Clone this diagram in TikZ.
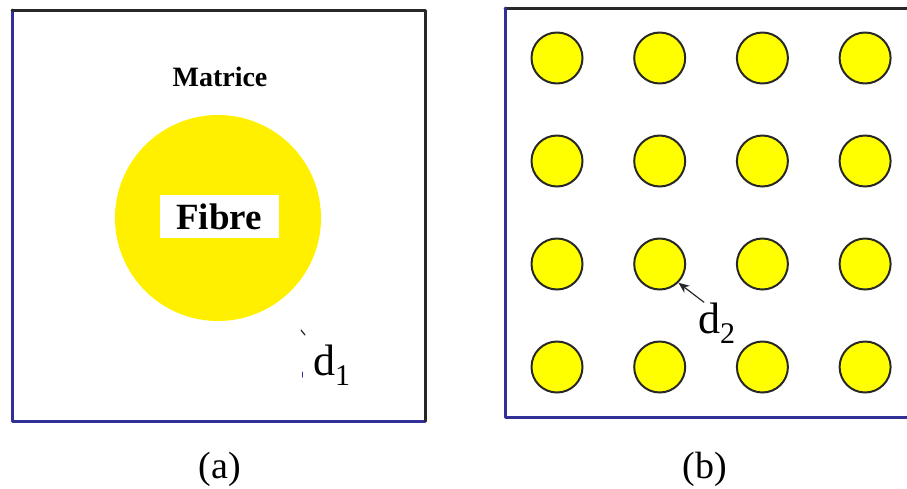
\documentclass[tikz,border=0pt]{standalone}
\usepackage{fontspec}
\setmainfont{Liberation Serif}
\usetikzlibrary{arrows.meta,positioning}
\definecolor{cellblue}{RGB}{48,48,150}
\definecolor{celldark}{RGB}{40,40,40}
\definecolor{fibreyellow}{RGB}{255,240,0}
\definecolor{rodyellow}{RGB}{255,255,0}
\tikzset{
 rod/.style={circle,draw=celldark,fill=rodyellow,line width=2pt,minimum size=51pt,inner sep=0pt},
 dimlabel/.style={font=\fontsize{44}{46}\selectfont,inner sep=0pt,anchor=base west},
 caption/.style={font=\fontsize{38}{40}\selectfont,inner sep=0pt}
}
\newcommand{\dimsub}[1]{\raisebox{-10pt}{\fontsize{30}{30}\selectfont #1}}

\begin{document}
\begin{tikzpicture}[x=1pt,y=-1pt,line cap=round,line join=round]
 \useasboundingbox (0,0) rectangle (907,488);
 % Komorka (a).
 \draw[cellblue,line width=3pt] (425,421)--(12,421)--(12,10);
 \draw[celldark,line width=3pt] (12,10)--(425,10)--(425,421);
 \node[circle,fill=fibreyellow,minimum size=206pt,inner sep=0pt] (fibre) at (218,218) {};
 \node[fill=white,minimum width=119pt,minimum height=43pt,inner sep=0pt,
  font=\bfseries\fontsize{37}{39}\selectfont] (fibrelabel) at (219,216.5) {Fibre};
 \node[font=\bfseries\fontsize{28}{30}\selectfont,inner sep=0pt] (matrice) at (220,77) {Matrice};
 \node[dimlabel] (d1) at (313,375) {d\dimsub{1}};
 \draw[celldark,line width=1.2pt] (301,330)--(305,335);
 \draw[cellblue,line width=1pt] (302,372)--(302,377);
 \node[caption] (capa) at (220,469) {(a)};
 % Komorka (b).
 \draw[celldark,line width=3pt] (505,8)--(907,8);
 \draw[cellblue,line width=3pt] (907,417)--(505,417)--(505,8);
 \foreach \i in {1,...,4}
  \foreach \j in {1,...,4}
   \node[rod] (r-\i-\j) at ({557+102.7*(\i-1)},{58+103*(\j-1)}) {};
 \node[dimlabel] (d2) at (698,333) {d\dimsub{2}};
 \draw[celldark,line width=1.2pt,-{Stealth[length=11pt,width=9pt]}]
  ([xshift=6pt]d2.north west) -- (r-2-3.-45);
 \node[caption] (capb) at (705,469) {(b)};
\end{tikzpicture}
\end{document}
